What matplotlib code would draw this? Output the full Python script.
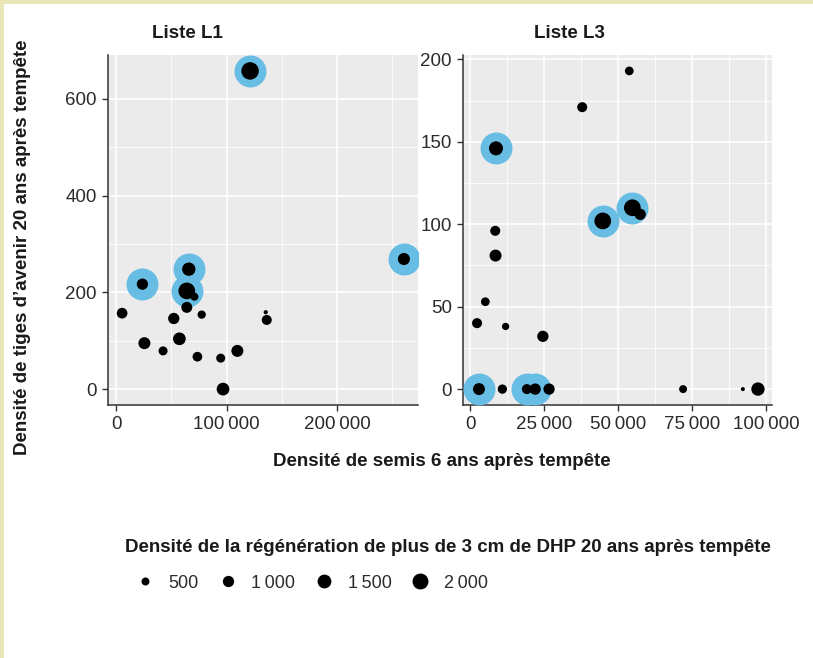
import matplotlib
matplotlib.use('Agg')
import matplotlib.pyplot as plt
from matplotlib.ticker import MultipleLocator, FuncFormatter
from matplotlib.lines import Line2D

plt.rcParams['font.family'] = ['Liberation Sans', 'DejaVu Sans']

# Liste L1
l1_semis = [121300, 260600, 23800, 65800, 64000, 70900, 64000, 5400, 52200, 77500,
            135500, 136400, 25600, 57300, 42500, 73600, 94700, 109800, 96800]
l1_tiges = [658, 269, 217, 248, 203, 191, 169, 157, 146, 154,
            159, 143, 95, 104, 79, 67, 64, 79, 0]
l1_regen = [2400, 1150, 1000, 1400, 2200, 500, 950, 900, 1000, 540,
            140, 790, 1130, 1270, 640, 740, 640, 1130, 1270]
l1_halo = [1, 1, 1, 1, 1, 0, 0, 0, 0, 0, 0, 0, 0, 0, 0, 0, 0, 0, 0]

# Liste L3
l3_semis = [53800, 37900, 8750, 44850, 54850, 57500, 8500, 8600, 5150, 2350,
            12000, 24600, 3000, 10900, 19200, 22000, 26700, 72000, 92200, 97300]
l3_tiges = [193, 171, 146, 102, 110, 106, 96, 81, 53, 40,
            38, 32, 0, 0, 0, 0, 0, 0, 0, 0]
l3_regen = [600, 790, 1540, 2200, 2200, 1000, 790, 1130, 600, 790,
            420, 1000, 1130, 680, 790, 1000, 1000, 500, 130, 1390]
l3_halo = [0, 0, 1, 1, 1, 0, 0, 0, 0, 0, 0, 0, 1, 0, 1, 1, 0, 0, 0, 0]

legend_vals = [500, 1000, 1500, 2000]

SIZE_K = 0.066   # points^2 per unit of regeneration density
HALO_S = 530
BLUE = '#68BDE4'
DARK = '#333333'
TXT = '#1a1a1a'


def fmt(v, pos):
    return '{:,}'.format(int(round(v))).replace(',', '\u202f')


def panel(ax, xs, ys, regen, halo, xmaj, ymaj):
    ax.set_facecolor('#EBEBEB')
    hx = [x for x, h in zip(xs, halo) if h]
    hy = [y for y, h in zip(ys, halo) if h]
    ax.scatter(hx, hy, s=HALO_S, color=BLUE, lw=0, zorder=3)
    ax.scatter(xs, ys, s=[SIZE_K * r for r in regen], color='black', lw=0, zorder=4)
    ax.margins(0.05)
    ax.xaxis.set_major_locator(MultipleLocator(xmaj))
    ax.xaxis.set_minor_locator(MultipleLocator(xmaj / 2))
    ax.yaxis.set_major_locator(MultipleLocator(ymaj))
    ax.yaxis.set_minor_locator(MultipleLocator(ymaj / 2))
    ax.xaxis.set_major_formatter(FuncFormatter(fmt))
    ax.yaxis.set_major_formatter(FuncFormatter(fmt))
    ax.grid(which='major', color='white', lw=1.2)
    ax.grid(which='minor', color='white', lw=0.6)
    ax.set_axisbelow(True)
    for s in ['top', 'right']:
        ax.spines[s].set_visible(False)
    for s in ['left', 'bottom']:
        ax.spines[s].set_color(DARK)
        ax.spines[s].set_linewidth(1.1)
    ax.tick_params(which='major', length=4, width=1, color=DARK,
                   labelsize=13.5, labelcolor='#2b2b2b', pad=4)
    ax.tick_params(which='minor', length=0)


W, H = 813, 658
fig = plt.figure(figsize=(W / 100, H / 100), dpi=100)
fig.patch.set_facecolor('white')

ax1 = fig.add_axes([108 / W, 1 - 405 / H, 310 / W, 350 / H])
ax2 = fig.add_axes([463 / W, 1 - 405 / H, 309 / W, 350 / H])
panel(ax1, l1_semis, l1_tiges, l1_regen, l1_halo, 100000, 200)
panel(ax2, l3_semis, l3_tiges, l3_regen, l3_halo, 25000, 50)

fig.text(187 / W, 1 - 33 / H, 'Liste L1', ha='center', va='center',
         fontsize=13.5, fontweight='bold', color=TXT)
fig.text(569 / W, 1 - 33 / H, 'Liste L3', ha='center', va='center',
         fontsize=13.5, fontweight='bold', color=TXT)
fig.text(23 / W, 1 - 247 / H, 'Densité de tiges d\u2019avenir 20 ans après tempête',
         rotation=90, ha='center', va='center', fontsize=13.5, fontweight='bold',
         color=TXT)
fig.text(442 / W, 1 - 462 / H, 'Densité de semis 6 ans après tempête',
         ha='center', va='center', fontsize=13.5, fontweight='bold', color=TXT)

fig.text(125 / W, 1 - 548 / H,
         'Densité de la régénération de plus de 3 cm de DHP 20 ans après tempête',
         ha='left', va='center', fontsize=13.5, fontweight='bold', color=TXT)

handles = [Line2D([], [], ls='none', marker='o', color='black', mec='none',
                  markersize=(SIZE_K * v) ** 0.5) for v in legend_vals]
labels = [fmt(v, None) for v in legend_vals]
leg = fig.legend(handles, labels, ncol=4, frameon=False, loc='center left',
                 bbox_to_anchor=(118 / W, 1 - 583 / H), fontsize=13,
                 handletextpad=0.5, columnspacing=0.8, handlelength=1.6,
                 borderpad=0.2)
for t in leg.get_texts():
    t.set_color('#2b2b2b')

# page border strips
fig.add_artist(plt.Rectangle((0, 0), 3.5 / W, 1, transform=fig.transFigure,
                             color='#E9E7B5', lw=0))
fig.add_artist(plt.Rectangle((0, 1 - 4 / H), 1, 4 / H, transform=fig.transFigure,
                             color='#E9E7B5', lw=0))

fig.savefig('out.png', dpi=100)
